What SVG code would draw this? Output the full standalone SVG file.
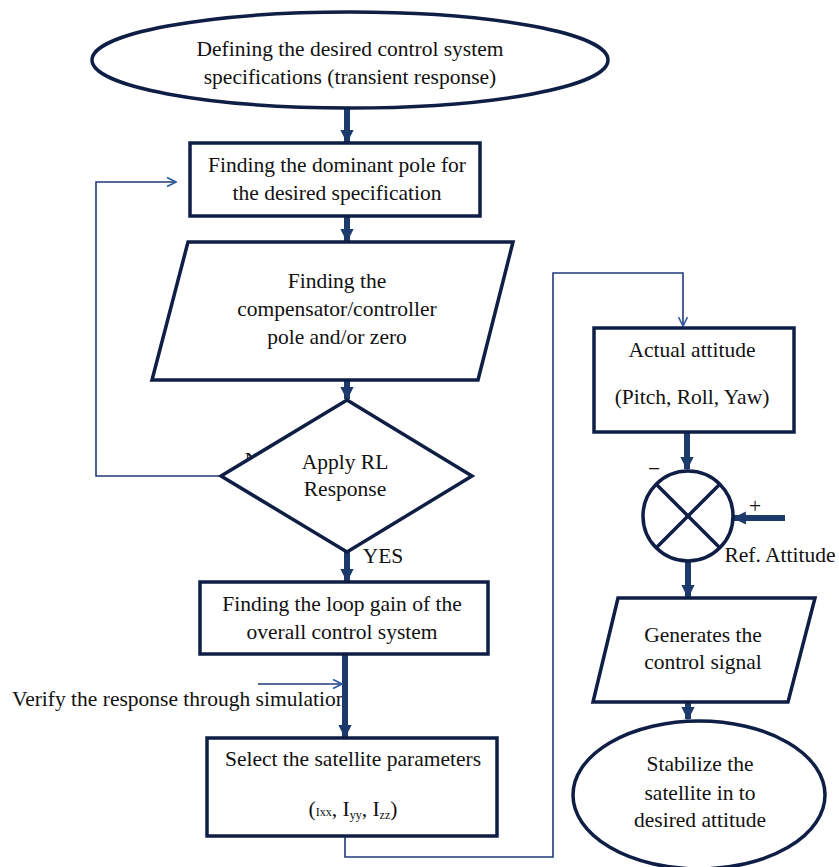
<svg xmlns="http://www.w3.org/2000/svg" width="839" height="867" viewBox="0 0 839 867" font-family="'Liberation Serif', 'Times New Roman', 'DejaVu Serif', serif">
<defs>
<style>
.shape{fill:#fff;stroke:#0f1e45;stroke-width:3.5}
.thick{stroke:#1c3a6b;stroke-width:6;fill:none}
.thin{stroke:#213a78;stroke-width:1.6;fill:none}
text{font-family:'Liberation Serif','Times New Roman','DejaVu Serif',serif;font-size:21.5px;fill:#111;text-anchor:middle}
</style>
<marker id="blk" viewBox="0 0 10 10" refX="9" refY="5" markerWidth="2.2" markerHeight="2.2" orient="auto" markerUnits="strokeWidth">
<path d="M0,0 L10,5 L0,10 z" fill="#1c3a6b"/>
</marker>
<marker id="open" viewBox="0 0 10 10" refX="9" refY="5" markerWidth="7" markerHeight="7" orient="auto" markerUnits="strokeWidth">
<path d="M1,1 L9,5 L1,9" fill="none" stroke="#2d5aa0" stroke-width="1.4"/>
</marker>
</defs>

<g id="verify">
<text x="12" y="706" style="text-anchor:start">Verify the response through simulation</text>
</g>

<g id="connectors">
<line class="thick" x1="347" y1="108" x2="347" y2="142" marker-end="url(#blk)"/>
<line class="thick" x1="347" y1="217" x2="347" y2="241" marker-end="url(#blk)"/>
<line class="thick" x1="347" y1="380" x2="347" y2="399" marker-end="url(#blk)"/>
<line class="thick" x1="347" y1="552" x2="347" y2="581" marker-end="url(#blk)"/>
<line class="thick" x1="345" y1="654" x2="345" y2="737" marker-end="url(#blk)"/>
<polyline class="thin" points="221,476 96,476 96,182 176,182" marker-end="url(#open)"/>
<line class="thin" x1="258" y1="684" x2="342" y2="684" marker-end="url(#open)"/>
<polyline class="thin" points="345,837 345,857 553,857 553,273 683,273 683,326" marker-end="url(#open)"/>
<line class="thick" x1="687" y1="432" x2="687" y2="469" marker-end="url(#blk)"/>
<line class="thick" x1="785" y1="518" x2="734" y2="518" marker-end="url(#blk)"/>
<line class="thick" x1="688" y1="562" x2="688" y2="597" marker-end="url(#blk)"/>
<line class="thick" x1="688" y1="702" x2="688" y2="719" marker-end="url(#blk)"/>
</g>

<g id="start">
<ellipse class="shape" cx="350" cy="60" rx="258" ry="48"/>
<text x="350" y="56">Defining the desired control system</text>
<text x="350" y="84">specifications (transient response)</text>
</g>

<g id="dominant-pole">
<rect class="shape" x="190" y="143" width="290" height="73"/>
<text x="337" y="172">Finding the dominant pole for</text>
<text x="337" y="200">the desired specification</text>
</g>

<g id="compensator">
<polygon class="shape" points="188,242 513,242 478,380 152,380"/>
<text x="337" y="288">Finding the</text>
<text x="337" y="316">compensator/controller</text>
<text x="337" y="344">pole and/or zero</text>
</g>

<g id="decision">
<text x="260" y="467">NO</text>
<polygon class="shape" points="347,400 472,476 347,552 221,476"/>
<text x="345" y="469">Apply RL</text>
<text x="345" y="496">Response</text>
<text x="383" y="563">YES</text>
</g>

<g id="loop-gain">
<rect class="shape" x="200" y="582" width="288" height="72"/>
<text x="342" y="611">Finding the loop gain of the</text>
<text x="342" y="639">overall control system</text>
</g>

<g id="satellite-params">
<rect class="shape" x="207" y="738" width="290" height="98"/>
<text x="353" y="766">Select the satellite parameters</text>
<text x="353" y="816">(<tspan font-size="12">Ixx</tspan>, I<tspan font-size="12" dy="3">yy</tspan><tspan dy="-3">, I</tspan><tspan font-size="12" dy="3">zz</tspan><tspan dy="-3">)</tspan></text>
</g>

<g id="actual-attitude">
<rect class="shape" x="594" y="328" width="200" height="104"/>
<text x="692" y="357">Actual attitude</text>
<text x="692" y="404">(Pitch, Roll, Yaw)</text>
</g>

<g id="summer">
<circle class="shape" cx="688" cy="516" r="45"/>
<line x1="656" y1="484" x2="720" y2="548" stroke="#0f1e45" stroke-width="3.5"/>
<line x1="720" y1="484" x2="656" y2="548" stroke="#0f1e45" stroke-width="3.5"/>
<text x="654" y="476">−</text>
<text x="755" y="513">+</text>
<text x="780" y="562">Ref. Attitude</text>
</g>

<g id="control-signal">
<polygon class="shape" points="618,598 815,598 788,702 593,702"/>
<text x="703" y="642">Generates the</text>
<text x="703" y="669">control signal</text>
</g>

<g id="stabilize">
<ellipse class="shape" cx="699" cy="795" rx="126" ry="74"/>
<text x="700" y="771">Stabilize the</text>
<text x="700" y="800">satellite in to</text>
<text x="700" y="827">desired attitude</text>
</g>
</svg>
